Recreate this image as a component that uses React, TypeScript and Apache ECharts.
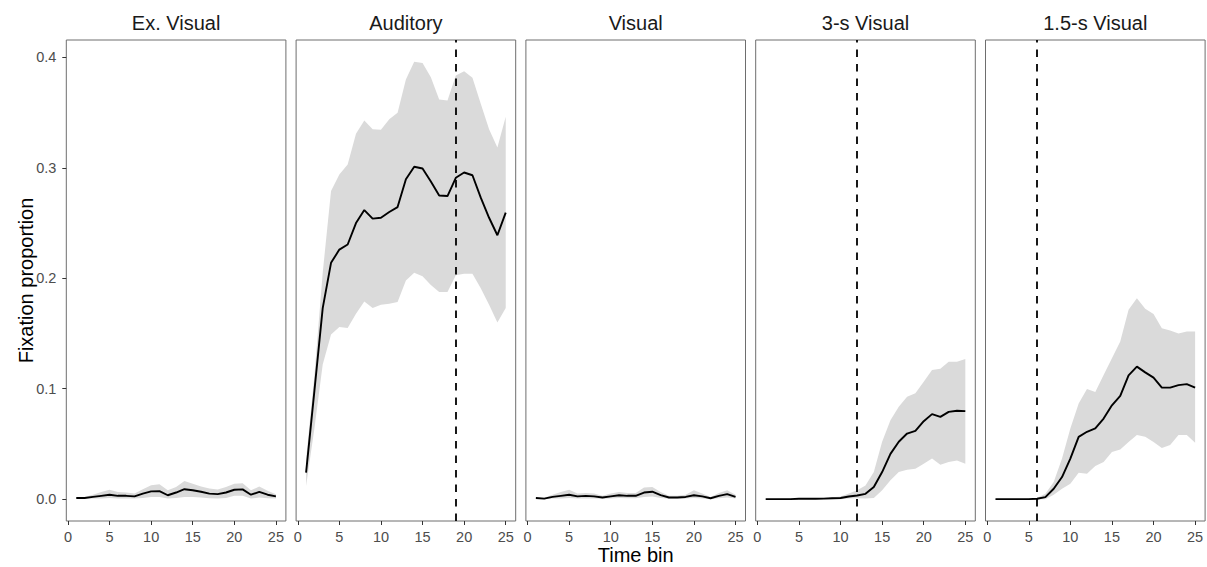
import React, { useEffect, useRef } from "react";
import * as echarts from "echarts";

const timeBins = [1, 2, 3, 4, 5, 6, 7, 8, 9, 10, 11, 12, 13, 14, 15, 16, 17, 18, 19, 20, 21, 22, 23, 24, 25];
const xTicks = [0, 5, 10, 15, 20, 25];
const yTicks = [0, 0.1, 0.2, 0.3, 0.4];
const panelNames = ["Ex. Visual", "Auditory", "Visual", "3-s Visual", "1.5-s Visual"];
const onsets: (number | null)[] = [null, 19, null, 12, 6];

const exVisualMean = [0.001, 0.001, 0.002, 0.003, 0.004, 0.003, 0.003, 0.0025, 0.005, 0.007, 0.0073, 0.0035, 0.006, 0.009, 0.008, 0.0067, 0.005, 0.0045, 0.006, 0.0085, 0.0088, 0.004, 0.0065, 0.004, 0.0025];
const exVisualUpper = [0.0015, 0.002, 0.004, 0.0065, 0.0085, 0.0065, 0.006, 0.005, 0.009, 0.0125, 0.0135, 0.008, 0.011, 0.0165, 0.014, 0.0115, 0.0097, 0.0088, 0.011, 0.014, 0.0145, 0.008, 0.0115, 0.0075, 0.0045];
const exVisualLower = [0.0005, 0.0003, 0.0005, 0.0005, 0.001, 0.0005, 0.0005, 0.0005, 0.001, 0.002, 0.002, 0.0005, 0.001, 0.002, 0.002, 0.0015, 0.0008, 0.0005, 0.001, 0.003, 0.003, 0.0005, 0.0015, 0.0008, 0.0005];

const auditoryMean = [0.024, 0.098, 0.173, 0.214, 0.226, 0.2306, 0.25, 0.2618, 0.254, 0.2548, 0.26, 0.2645, 0.2897, 0.301, 0.2994, 0.2876, 0.275, 0.2745, 0.291, 0.2958, 0.2933, 0.273, 0.2548, 0.239, 0.2594];
const auditoryUpper = [0.036, 0.112, 0.205, 0.279, 0.294, 0.303, 0.331, 0.343, 0.335, 0.3345, 0.344, 0.35, 0.38, 0.396, 0.395, 0.382, 0.362, 0.361, 0.3836, 0.3876, 0.3815, 0.358, 0.335, 0.3185, 0.3464];
const auditoryLower = [0.012, 0.064, 0.122, 0.149, 0.156, 0.155, 0.168, 0.179, 0.173, 0.176, 0.177, 0.1785, 0.198, 0.205, 0.2018, 0.194, 0.1876, 0.1876, 0.2027, 0.204, 0.204, 0.191, 0.176, 0.16, 0.173];

const visualMean = [0.001, 0.0005, 0.002, 0.003, 0.004, 0.0025, 0.003, 0.0025, 0.0015, 0.0025, 0.0035, 0.003, 0.003, 0.006, 0.0067, 0.0037, 0.0015, 0.0015, 0.002, 0.0035, 0.0025, 0.0008, 0.003, 0.0045, 0.002];
const visualUpper = [0.0015, 0.0012, 0.004, 0.0065, 0.0085, 0.005, 0.0055, 0.005, 0.003, 0.005, 0.0065, 0.0055, 0.0055, 0.0105, 0.011, 0.0065, 0.003, 0.003, 0.004, 0.008, 0.005, 0.002, 0.0055, 0.008, 0.004];
const visualLower = [0.0003, 0, 0.0005, 0.0005, 0.001, 0.0005, 0.0005, 0.0005, 0.0003, 0.0005, 0.001, 0.0008, 0.0008, 0.002, 0.0025, 0.001, 0.0003, 0.0003, 0.0005, 0.001, 0.0005, 0, 0.0008, 0.0015, 0.0005];

const visual3sMean = [0, 0, 0, 0, 0.0003, 0.0003, 0.0003, 0.0005, 0.0008, 0.001, 0.0024, 0.0033, 0.0048, 0.011, 0.0245, 0.041, 0.052, 0.0594, 0.0618, 0.0706, 0.077, 0.0745, 0.079, 0.08, 0.0797];
const visual3sUpper = [0.0002, 0.0002, 0.0003, 0.0003, 0.0008, 0.0008, 0.0008, 0.0012, 0.0018, 0.0025, 0.005, 0.008, 0.0124, 0.0245, 0.052, 0.0715, 0.0836, 0.0927, 0.0958, 0.1064, 0.117, 0.118, 0.1245, 0.1245, 0.127];
const visual3sLower = [0, 0, 0, 0, 0, 0, 0, 0, 0, 0, 0.0005, 0.0008, 0.0005, 0.001, 0.008, 0.017, 0.0245, 0.0267, 0.0276, 0.032, 0.0367, 0.0312, 0.0336, 0.035, 0.032];

const visual15sMean = [0, 0, 0, 0, 0, 0.0003, 0.0018, 0.0094, 0.02, 0.0367, 0.0564, 0.061, 0.064, 0.073, 0.085, 0.0936, 0.112, 0.12, 0.1148, 0.11, 0.101, 0.101, 0.1033, 0.1042, 0.101];
const visual15sUpper = [0.0002, 0.0002, 0.0002, 0.0002, 0.0003, 0.001, 0.0048, 0.0155, 0.0367, 0.064, 0.0867, 0.0997, 0.097, 0.1124, 0.1276, 0.1427, 0.1715, 0.182, 0.1724, 0.1676, 0.1548, 0.1527, 0.15, 0.1518, 0.1518];
const visual15sLower = [0, 0, 0, 0, 0, 0, 0, 0.004, 0.0094, 0.014, 0.024, 0.023, 0.03, 0.0336, 0.0427, 0.045, 0.0518, 0.058, 0.0564, 0.0518, 0.0464, 0.049, 0.058, 0.058, 0.051];

const means = [exVisualMean, auditoryMean, visualMean, visual3sMean, visual15sMean];
const uppers = [exVisualUpper, auditoryUpper, visualUpper, visual3sUpper, visual15sUpper];
const lowers = [exVisualLower, auditoryLower, visualLower, visual3sLower, visual15sLower];

const FONT = '"Liberation Sans", Arial, Helvetica, sans-serif';

export default function App() {
  const ref = useRef<HTMLDivElement>(null);

  useEffect(() => {
    if (!ref.current) return;
    const chart = echarts.init(ref.current, undefined, { renderer: "svg" });

    const dataMax = 0.396;
    const dataMin = 0;
    const pad = (dataMax - dataMin) * 0.05;
    const yMin = dataMin - pad;
    const yMax = dataMax + pad;

    const panelLeft0 = 66.3;
    const panelStep = 229.8;
    const panelWidth = 219.6;
    const panelTop = 40;
    const panelHeight = 481;

    const grids: any[] = [];
    const xAxes: any[] = [];
    const yAxes: any[] = [];
    const series: any[] = [];
    const graphics: any[] = [];

    panelNames.forEach((name, i) => {
      const left = panelLeft0 + panelStep * i;
      grids.push({
        left,
        top: panelTop,
        width: panelWidth,
        height: panelHeight,
        show: true,
        borderColor: "#6e6e6e",
        borderWidth: 1,
        backgroundColor: "transparent",
        containLabel: false,
      });
      xAxes.push({
        gridIndex: i,
        type: "value",
        position: "bottom",
        min: -0.2,
        max: 26.2,
        axisLine: { show: false, onZero: false },
        splitLine: { show: false },
        axisTick: {
          show: true,
          length: 4,
          lineStyle: { color: "#333333", width: 1 },
          customValues: xTicks,
        },
        axisLabel: {
          customValues: xTicks,
          fontSize: 14.5,
          color: "#4d4d4d",
          margin: 8,
          fontFamily: FONT,
        },
      });
      if (i === 0) {
        yAxes.push({
          gridIndex: i,
          type: "value",
          position: "left",
          min: yMin,
          max: yMax,
          axisLine: { show: false, onZero: false },
          splitLine: { show: false },
          axisTick: {
            show: true,
            length: 4,
            lineStyle: { color: "#333333", width: 1 },
            customValues: yTicks,
          },
          axisLabel: {
            customValues: yTicks,
            fontSize: 14.5,
            color: "#4d4d4d",
            margin: 10,
            fontFamily: FONT,
            formatter: (v: number) => v.toFixed(1),
          },
        });
      } else {
        yAxes.push({
          gridIndex: i,
          type: "value",
          min: yMin,
          max: yMax,
          show: false,
          axisLine: { onZero: false },
          splitLine: { show: false },
        });
      }

      const mean = means[i];
      const upper = uppers[i];
      const lower = lowers[i];

      series.push({
        type: "custom",
        xAxisIndex: i,
        yAxisIndex: i,
        silent: true,
        clip: true,
        encode: { x: 0, y: [1, 2] },
        data: timeBins.map((x, k) => [x, lower[k], upper[k]]),
        renderItem: (params: any, api: any) => {
          if (params.dataIndex !== 0) return null;
          const pts: number[][] = [];
          for (let k = 0; k < timeBins.length; k++) pts.push(api.coord([timeBins[k], upper[k]]));
          for (let k = timeBins.length - 1; k >= 0; k--) pts.push(api.coord([timeBins[k], lower[k]]));
          return {
            type: "polygon",
            shape: { points: pts },
            style: { fill: "#dadada", stroke: "none" },
          };
        },
      });

      const lineSeries: any = {
        type: "line",
        xAxisIndex: i,
        yAxisIndex: i,
        data: timeBins.map((x, k) => [x, mean[k]]),
        showSymbol: false,
        symbol: "none",
        silent: true,
        lineStyle: { color: "#000000", width: 1.9 },
        z: 3,
      };
      const onset = onsets[i];
      if (onset !== null) {
        lineSeries.markLine = {
          silent: true,
          symbol: ["none", "none"],
          label: { show: false },
          lineStyle: { color: "#000000", type: [7.5, 7], width: 1.8 },
          data: [{ xAxis: onset }],
        };
      }
      series.push(lineSeries);

      graphics.push({
        type: "text",
        x: left + panelWidth / 2,
        y: 23,
        style: {
          text: name,
          fontSize: 20,
          fontFamily: FONT,
          fill: "#1a1a1a",
          align: "center",
          verticalAlign: "middle",
        },
      });
    });

    graphics.push({
      type: "text",
      x: panelLeft0 + (panelStep * 4 + panelWidth) / 2,
      y: 555,
      style: {
        text: "Time bin",
        fontSize: 20,
        fontFamily: FONT,
        fill: "#000000",
        align: "center",
        verticalAlign: "middle",
      },
    });
    graphics.push({
      type: "text",
      x: 25.5,
      y: panelTop + panelHeight / 2,
      rotation: Math.PI / 2,
      style: {
        text: "Fixation proportion",
        fontSize: 20,
        fontFamily: FONT,
        fill: "#000000",
        align: "center",
        verticalAlign: "middle",
      },
    });

    chart.setOption({
      animation: false,
      backgroundColor: "#ffffff",
      grid: grids,
      xAxis: xAxes,
      yAxis: yAxes,
      series,
      graphic: graphics,
    });

    return () => {
      chart.dispose();
    };
  }, []);

  return (
    <div
      ref={ref}
      style={{ position: "fixed", left: 0, top: 0, width: 1207, height: 567, background: "#ffffff" }}
    />
  );
}
